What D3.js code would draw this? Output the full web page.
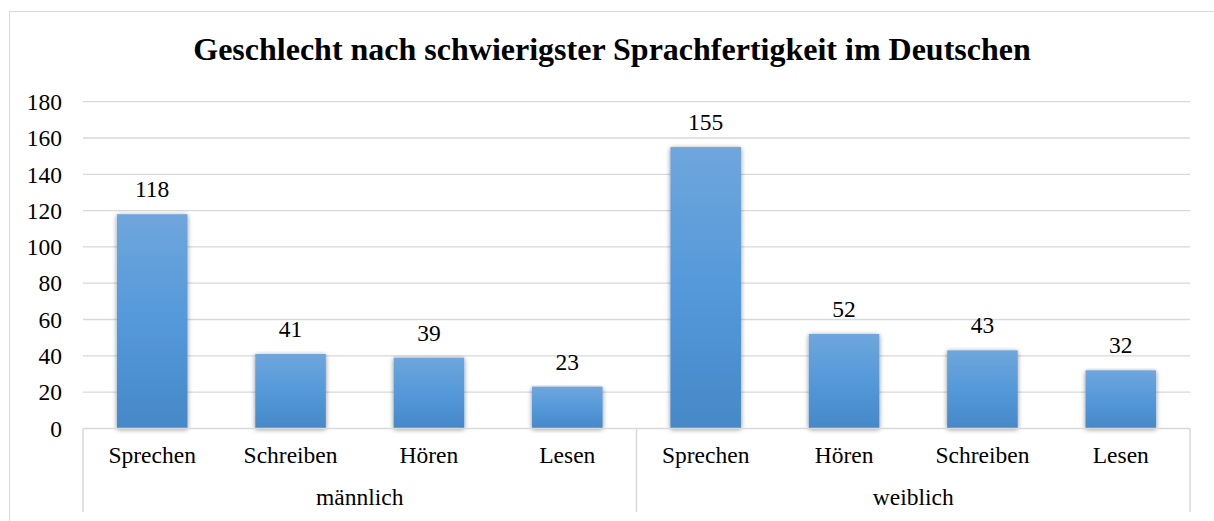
<!DOCTYPE html>
<html><head><meta charset="utf-8">
<script src="https://cdn.jsdelivr.net/npm/d3@7"></script>
<style>html,body{margin:0;padding:0;background:#fff;overflow:hidden}
text{font-family:"Liberation Serif","Times New Roman",Times,"DejaVu Serif",serif}</style>
</head><body>
<svg id="c" width="1214" height="521"></svg>
<script>
const title = "Geschlecht nach schwierigster Sprachfertigkeit im Deutschen";
const groups = ["männlich", "weiblich"];
const categories = ["Sprechen", "Schreiben", "Hören", "Lesen", "Sprechen", "Hören", "Schreiben", "Lesen"];
const groupOf = [0, 0, 0, 0, 1, 1, 1, 1];
const values = [118, 41, 39, 23, 155, 52, 43, 32];
const yTicks = [0, 20, 40, 60, 80, 100, 120, 140, 160, 180];

const svg = d3.select("#c");
const L = 83, R = 1190, T = 101.7, B = 428.4, axisBottom = 512;
const FS = 23.5;

svg.append("rect").attr("x", 9.5).attr("y", 11.5).attr("width", 1220).attr("height", 530)
  .attr("fill", "#fff").attr("stroke", "#d9d9d9").attr("stroke-width", 1);

const defs = svg.append("defs");
const grad = defs.append("linearGradient").attr("id", "g").attr("x1", 0).attr("y1", 0).attr("x2", 0).attr("y2", 1);
grad.append("stop").attr("offset", "0%").attr("stop-color", "#6fa6dc");
grad.append("stop").attr("offset", "50%").attr("stop-color", "#5499da");
grad.append("stop").attr("offset", "100%").attr("stop-color", "#4688c8");
const f = defs.append("filter").attr("id", "sh").attr("x", "-20%").attr("y", "-5%").attr("width", "140%").attr("height", "115%");
f.append("feGaussianBlur").attr("in", "SourceAlpha").attr("stdDeviation", 2.5).attr("result", "b");
f.append("feOffset").attr("in", "b").attr("dx", 0).attr("dy", 1).attr("result", "o");
f.append("feComponentTransfer").attr("in", "o").attr("result", "o2")
  .append("feFuncA").attr("type", "linear").attr("slope", 0.45);
const m = f.append("feMerge");
m.append("feMergeNode").attr("in", "o2");
m.append("feMergeNode").attr("in", "SourceGraphic");

const y = d3.scaleLinear().domain([0, 180]).range([B, T]);
const x = d3.scaleBand().domain(d3.range(categories.length)).range([L, R]).paddingInner(0.49).paddingOuter(0.245);

svg.append("text").attr("x", 612).attr("y", 60).attr("text-anchor", "middle")
  .attr("font-weight", "bold").attr("font-size", 32).attr("fill", "#000").text(title);

svg.append("g").selectAll("line").data(yTicks.filter(d => d > 0)).join("line")
  .attr("x1", L).attr("x2", R).attr("y1", d => y(d)).attr("y2", d => y(d))
  .attr("stroke", "#d9d9d9").attr("stroke-width", 1.3);

const yAxis = d3.axisLeft(y).tickValues(yTicks).tickSize(0).tickPadding(21);
const ya = svg.append("g").attr("transform", `translate(${L},0)`).call(yAxis);
ya.attr("font-family", null);
ya.select(".domain").remove();
ya.selectAll("text").attr("font-size", FS).attr("fill", "#000").attr("dy", "0.33em");

svg.append("g").selectAll("rect").data(values).join("rect")
  .attr("x", (d, i) => x(i)).attr("width", x.bandwidth())
  .attr("y", d => y(d)).attr("height", d => y(0) - y(d))
  .attr("fill", "url(#g)").attr("filter", "url(#sh)");

svg.append("g").selectAll("text").data(values).join("text")
  .attr("x", (d, i) => x(i) + x.bandwidth() / 2).attr("y", d => y(d) - 17)
  .attr("text-anchor", "middle").attr("font-size", FS).attr("fill", "#000")
  .text(d => d);

const ax = svg.append("g");
ax.append("line").attr("x1", L).attr("x2", R).attr("y1", B).attr("y2", B).attr("stroke", "#d9d9d9").attr("stroke-width", 1.5);
const seps = [L, x(4) - x.step() * x.paddingInner() / 2, R];
ax.selectAll(".sep").data(seps).join("line").attr("class", "sep")
  .attr("x1", d => d).attr("x2", d => d).attr("y1", B).attr("y2", axisBottom)
  .attr("stroke", "#d9d9d9").attr("stroke-width", 1.5);
ax.selectAll(".cat").data(categories).join("text").attr("class", "cat")
  .attr("x", (d, i) => x(i) + x.bandwidth() / 2).attr("y", 463)
  .attr("text-anchor", "middle").attr("font-size", FS).attr("fill", "#000")
  .text(d => d);
ax.selectAll(".grp").data(groups).join("text").attr("class", "grp")
  .attr("x", (d, gi) => (seps[gi] + seps[gi + 1]) / 2).attr("y", 505)
  .attr("text-anchor", "middle").attr("font-size", FS).attr("fill", "#000")
  .text(d => d);
</script>
</body></html>
